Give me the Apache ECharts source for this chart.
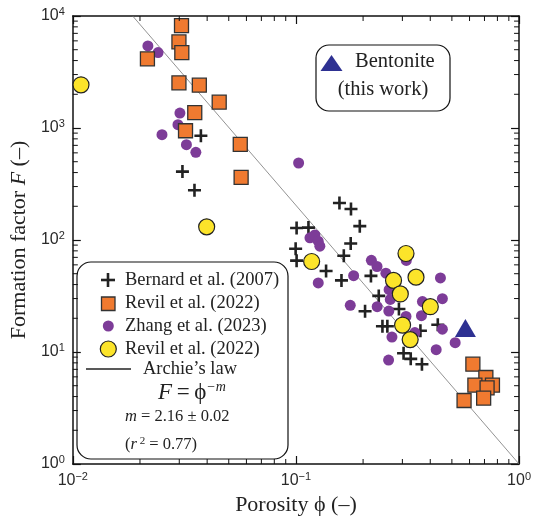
<!DOCTYPE html>
<html>
<head>
<meta charset="utf-8">
<script src="https://cdn.jsdelivr.net/npm/echarts@6/dist/echarts.min.js"></script>
<style>
  html, body { margin: 0; padding: 0; background: #fff; }
  #chart { width: 534px; height: 521px; }
</style>
</head>
<body>
<div id="chart"></div>
<script>
// Porosity (-) vs formation factor F (-)
const bernard2007 = [
  [0.0375, 853], [0.0310, 408], [0.0351, 278], [0.1567, 214], [0.1765, 189],
  [0.1933, 133], [0.1007, 128], [0.1138, 129], [0.1760, 93], [0.0997, 83.5],
  [0.1639, 72.3], [0.1007, 65.4], [0.1365, 52.9], [0.1600, 43.6], [0.2169, 47.8],
  [0.2351, 31.7], [0.2041, 23.1], [0.2895, 24.2], [0.2442, 17.0], [0.2569, 17.0],
  [0.3614, 15.5], [0.4323, 17.5], [0.3037, 9.75], [0.3270, 8.69], [0.3671, 7.78]
];
const revil2022Squares = [
  [0.0307, 8200], [0.0299, 5870], [0.0308, 4710], [0.0216, 4140], [0.0299, 2530],
  [0.0369, 2410], [0.0453, 1700], [0.0352, 1370], [0.0320, 945], [0.0563, 714],
  [0.0568, 363], [0.621, 7.78], [0.710, 5.92], [0.634, 5.06], [0.760, 5.06],
  [0.719, 4.78], [0.694, 3.87], [0.567, 3.69]
];
const zhang2023 = [
  [0.0217, 5400], [0.0241, 4710], [0.0302, 1360], [0.0296, 1070], [0.0251, 871],
  [0.0323, 709], [0.0356, 606], [0.1028, 487], [0.1156, 104.6], [0.1216, 110.8],
  [0.1259, 97.6], [0.1280, 88.1], [0.1259, 41.4], [0.1814, 48.0], [0.1752, 26.1],
  [0.2178, 65.9], [0.2309, 58.0], [0.2530, 50.6], [0.2616, 36.0], [0.2648, 29.5],
  [0.2313, 25.4], [0.2608, 23.2], [0.3124, 65.7], [0.4443, 45.8], [0.4533, 29.9],
  [0.3690, 28.2], [0.3653, 21.1], [0.4533, 16.0], [0.4252, 10.5], [0.5173, 12.1],
  [0.2694, 13.6], [0.2602, 8.48], [0.3412, 14.9], [0.3114, 20.8]
];
const revil2022Circles = [
  [0.01088, 2430], [0.0398, 131], [0.1176, 64.3], [0.3114, 75.8], [0.3453, 46.6],
  [0.2738, 43.6], [0.2936, 33.0], [0.4002, 25.4], [0.3006, 17.4], [0.3251, 12.9]
];
const bentonite = [[0.575, 16.4]];
// Archie's law F = phi^-m with m = 2.16, end points across the frame
const archieLine = [[0.01855, 10000], [1, 1]];

const xTicks = [0.01, 0.1, 1];
const yTicks = [1, 10, 100, 1000, 10000];

const SERIF = '"Liberation Serif", "Times New Roman", serif';
const SANS = '"Liberation Sans", Arial, sans-serif';
const PLUS = 'path://M4,0H6V4H10V6H6V10H4V6H0V4H4Z';

// minor ticks (2..9 within each decade) on all four frame sides
const minorTickData = [];
for (let i = 0; i < xTicks.length - 1; i++)
  for (let k = 2; k <= 9; k++) minorTickData.push([xTicks[i] * k, 1, 0]);
for (let i = 0; i < yTicks.length - 1; i++)
  for (let k = 2; k <= 9; k++) minorTickData.push([0.01, yTicks[i] * k, 1]);

function powLabel(v) {
  const e = Math.round(Math.log10(v));
  return '{b|10}{s|' + (e < 0 ? '\u2212' + (-e) : e) + '}';
}
const labelRich = {
  b: { fontSize: 16, fontFamily: SANS, color: '#2a2a2a' },
  s: { fontSize: 11, fontFamily: SANS, color: '#2a2a2a', padding: [0, 0, 8, 0] }
};

const baseAxis = {
  type: 'log', logBase: 10,
  axisLine: { show: true, lineStyle: { color: '#111', width: 1.5 } },
  axisTick: { show: true, inside: true, length: 8, lineStyle: { color: '#111', width: 1.2 } },
  splitLine: { show: false },
  minorTick: { show: false }
};

const chart = echarts.init(document.getElementById('chart'));
chart.setOption({
  animation: false,
  backgroundColor: '#fff',
  grid: { left: 67, right: 13, top: 16, bottom: 56 },
  xAxis: [
    Object.assign({}, baseAxis, {
      min: 0.01, max: 1, position: 'bottom',
      axisLabel: { formatter: powLabel, rich: labelRich, margin: 7 },
      name: 'Porosity \u03D5 (\u2013)', nameLocation: 'middle', nameGap: 30,
      nameTextStyle: { fontFamily: SERIF, fontSize: 22, color: '#222' }
    }),
    Object.assign({}, baseAxis, {
      min: 0.01, max: 1, position: 'top', axisLabel: { show: false }
    })
  ],
  yAxis: [
    Object.assign({}, baseAxis, {
      min: 1, max: 10000, position: 'left',
      axisLabel: { formatter: powLabel, rich: labelRich, margin: 8 },
      name: '{a|Formation factor }{i|F}{a| (\u2013)}', nameLocation: 'middle', nameGap: 36,
      nameTextStyle: {
        rich: {
          a: { fontFamily: SERIF, fontSize: 22, color: '#222' },
          i: { fontFamily: SERIF, fontSize: 22, color: '#222', fontStyle: 'italic' }
        }
      }
    }),
    Object.assign({}, baseAxis, {
      min: 1, max: 10000, position: 'right', axisLabel: { show: false }
    })
  ],
  series: [
    {
      type: 'line', data: archieLine, symbol: 'none', silent: true,
      lineStyle: { color: '#777', width: 0.8 }, z: 1
    },
    {
      name: 'Bernard et al. (2007)', type: 'scatter', data: bernard2007,
      symbol: PLUS, symbolSize: 13, itemStyle: { color: '#222', opacity: 1 }, z: 2
    },
    {
      name: 'Zhang et al. (2023)', type: 'scatter', data: zhang2023,
      symbol: 'circle', symbolSize: 11, itemStyle: { color: '#7D3C98', opacity: 1 }, z: 3
    },
    {
      name: 'Revil et al. (2022)', type: 'scatter', data: revil2022Squares,
      symbol: 'rect', symbolSize: 14,
      itemStyle: { color: '#F07A30', borderColor: '#333', borderWidth: 1.3, opacity: 1 }, z: 4
    },
    {
      name: 'Revil et al. (2022) ', type: 'scatter', data: revil2022Circles,
      symbol: 'circle', symbolSize: 16,
      itemStyle: { color: '#FCE42A', borderColor: '#222', borderWidth: 1.2, opacity: 1 }, z: 5
    },
    {
      name: 'Bentonite (this work)', type: 'scatter', data: bentonite,
      symbol: 'triangle', symbolSize: [21, 18], itemStyle: { color: '#2E3192', opacity: 1 }, z: 6
    },
    {
      type: 'custom', data: minorTickData, silent: true, clip: false, z: 7,
      encode: { x: 0, y: 1 },
      renderItem: function (params, api) {
        const kind = api.value(2);
        const st = { stroke: '#111', lineWidth: 1 };
        if (kind === 0) {
          const v = api.value(0);
          const b = api.coord([v, 1]);
          const t = api.coord([v, 10000]);
          return { type: 'group', children: [
            { type: 'line', shape: { x1: b[0], y1: b[1], x2: b[0], y2: b[1] - 5 }, style: st },
            { type: 'line', shape: { x1: t[0], y1: t[1], x2: t[0], y2: t[1] + 5 }, style: st }
          ] };
        }
        const v = api.value(1);
        const l = api.coord([0.01, v]);
        const r = api.coord([1, v]);
        return { type: 'group', children: [
          { type: 'line', shape: { x1: l[0], y1: l[1], x2: l[0] + 5, y2: l[1] }, style: st },
          { type: 'line', shape: { x1: r[0], y1: r[1], x2: r[0] - 5, y2: r[1] }, style: st }
        ] };
      }
    }
  ],
  graphic: [
    // key for the data sources and Archie's law
    { type: 'rect', shape: { x: 77, y: 262, width: 211, height: 197, r: 14 },
      style: { fill: 'rgba(0,0,0,0)', stroke: '#111', lineWidth: 1.2 }, z: 20 },
    { type: 'rect', shape: { x: 101, y: 278.7, width: 14, height: 2.6 }, style: { fill: '#222' }, z: 21 },
    { type: 'rect', shape: { x: 106.7, y: 273, width: 2.6, height: 14 }, style: { fill: '#222' }, z: 21 },
    { type: 'rect', shape: { x: 101.5, y: 297, width: 13.5, height: 13.5 },
      style: { fill: '#F07A30', stroke: '#333', lineWidth: 1.3 }, z: 21 },
    { type: 'circle', shape: { cx: 108.3, cy: 326, r: 5.5 }, style: { fill: '#7D3C98' }, z: 21 },
    { type: 'circle', shape: { cx: 108.3, cy: 349, r: 8 },
      style: { fill: '#FCE42A', stroke: '#222', lineWidth: 1.2 }, z: 21 },
    { type: 'line', shape: { x1: 86, y1: 369, x2: 131, y2: 369 },
      style: { stroke: '#222', lineWidth: 1.3 }, z: 21 },
    { type: 'text', x: 125, y: 280, z: 21,
      style: { text: 'Bernard et al. (2007)', font: '18.5px ' + SERIF, fill: '#222', verticalAlign: 'middle' } },
    { type: 'text', x: 125, y: 303, z: 21,
      style: { text: 'Revil et al. (2022)', font: '18.5px ' + SERIF, fill: '#222', verticalAlign: 'middle' } },
    { type: 'text', x: 125, y: 326, z: 21,
      style: { text: 'Zhang et al. (2023)', font: '18.5px ' + SERIF, fill: '#222', verticalAlign: 'middle' } },
    { type: 'text', x: 125, y: 349, z: 21,
      style: { text: 'Revil et al. (2022)', font: '18.5px ' + SERIF, fill: '#222', verticalAlign: 'middle' } },
    { type: 'text', x: 143, y: 369, z: 21,
      style: { text: 'Archie\u2019s law', font: '18.5px ' + SERIF, fill: '#222', verticalAlign: 'middle' } },
    { type: 'text', x: 158, y: 393, z: 21,
      style: {
        text: '{i|F}{n|\u2009=\u2009\u03D5}{s|\u2212m}', verticalAlign: 'middle',
        rich: {
          i: { fontFamily: SERIF, fontSize: 23, fontStyle: 'italic', fill: '#222' },
          n: { fontFamily: SERIF, fontSize: 23, fill: '#222' },
          s: { fontFamily: SERIF, fontSize: 14, fontStyle: 'italic', fill: '#222', padding: [0, 0, 12, 0] }
        }
      } },
    { type: 'text', x: 125, y: 417, z: 21,
      style: {
        text: '{i|m}{n| = 2.16 \u00B1 0.02}', verticalAlign: 'middle',
        rich: {
          i: { fontFamily: SERIF, fontSize: 16.5, fontStyle: 'italic', fill: '#222' },
          n: { fontFamily: SERIF, fontSize: 16.5, fill: '#222' }
        }
      } },
    { type: 'text', x: 125, y: 445, z: 21,
      style: {
        text: '{n|(}{i|r}{s| 2}{n| = 0.77)}', verticalAlign: 'middle',
        rich: {
          i: { fontFamily: SERIF, fontSize: 16.5, fontStyle: 'italic', fill: '#222' },
          n: { fontFamily: SERIF, fontSize: 16.5, fill: '#222' },
          s: { fontFamily: SERIF, fontSize: 11, fill: '#222', padding: [0, 0, 8, 0] }
        }
      } },
    // key for this work
    { type: 'rect', shape: { x: 316, y: 45, width: 134, height: 66, r: 13 },
      style: { fill: 'rgba(0,0,0,0)', stroke: '#111', lineWidth: 1.2 }, z: 20 },
    { type: 'polygon', shape: { points: [[331.5, 55], [320.5, 71], [342.5, 71]] },
      style: { fill: '#2E3192' }, z: 21 },
    { type: 'text', x: 355, y: 62, z: 21,
      style: { text: 'Bentonite', font: '20.5px ' + SERIF, fill: '#222', verticalAlign: 'middle' } },
    { type: 'text', x: 383, y: 90, z: 21,
      style: { text: '(this work)', font: '20.5px ' + SERIF, fill: '#222', align: 'center', verticalAlign: 'middle' } }
  ]
});
</script>
</body>
</html>
